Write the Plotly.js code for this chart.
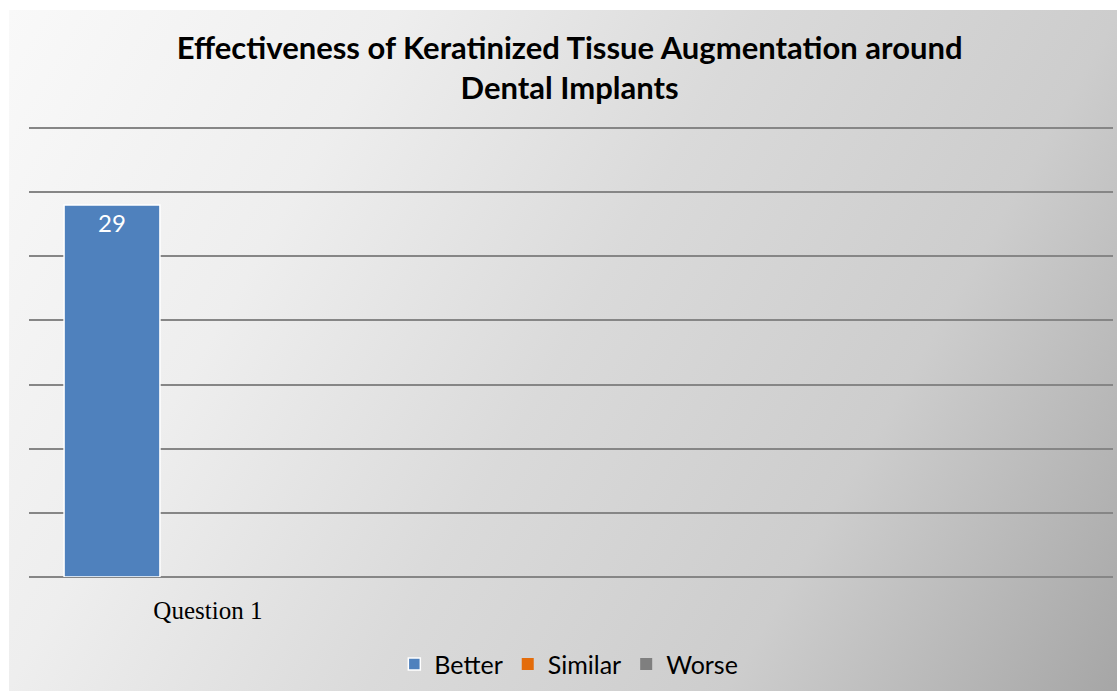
<!DOCTYPE html>
<html>
<head>
<meta charset="utf-8">
<script src="https://cdn.plot.ly/plotly-3.0.1.min.js"></script>
<style>
  html, body { margin: 0; padding: 0; background: #ffffff; }
  #bg { position: absolute; left: 9px; top: 10px; width: 1108px; height: 681px;
        background: linear-gradient(120deg, #f9f9f9 0%, #eeeeee 26%, #dadada 50%, #cdcdcd 74%, #a6a6a6 100%); }
  #chart { position: absolute; left: 0; top: 0; width: 1117px; height: 691px; }
</style>
</head>
<body>
<div id="bg"></div>
<div id="chart"></div>
<script>
const categories = ["Question 1"];
const seriesNames = ["Better", "Similar", "Worse"];
const better = [29];
const similar = [0];
const worse = [0];
const colors = ["#4f81bd", "#e46c0a", "#7f7f7f"];

const values = [better, similar, worse];
const traces = seriesNames.map((name, i) => ({
  type: "bar",
  name: name,
  x: categories,
  y: values[i],
  marker: { color: colors[i], line: { color: "#ffffff", width: values[i][0] > 0 ? 1.5 : 0 } },
  text: values[i].map(v => v > 0 ? String(v) : ""),
  textposition: "inside",
  insidetextanchor: "end",
  textfont: { family: "Lato, 'Open Sans', sans-serif", size: 24, color: "#ffffff" },
  hoverinfo: "none"
}));

const layout = {
  width: 1117,
  height: 691,
  paper_bgcolor: "rgba(0,0,0,0)",
  plot_bgcolor: "rgba(0,0,0,0)",
  margin: { l: 29, r: 4, t: 127, b: 114 },
  title: {
    text: "Effectiveness of Keratinized Tissue Augmentation around<br>Dental Implants",
    font: { family: "Lato, 'Open Sans', sans-serif", size: 31, color: "#000000", weight: "bold" },
    x: 0.51, xanchor: "center",
    y: 0.915, yanchor: "top", yref: "container"
  },
  barmode: "group",
  bargap: 0.196,
  bargroupgap: 0,
  xaxis: {
    type: "category",
    range: [-0.5, 2.53],
    showgrid: false,
    zeroline: false,
    showline: false,
    ticks: "",
    tickfont: { family: "'Liberation Serif', 'DejaVu Serif', serif", size: 25, color: "#000000" },
    ticklabelstandoff: 16
  },
  yaxis: {
    range: [0, 35.08],
    tickvals: [0, 5, 10, 15, 20, 25, 30, 35],
    showticklabels: false,
    showgrid: true,
    gridcolor: "#868686",
    gridwidth: 2,
    zeroline: true,
    zerolinecolor: "#868686",
    zerolinewidth: 2,
    ticks: ""
  },
  showlegend: true,
  legend: {
    orientation: "h",
    x: 0.498, xanchor: "center",
    y: -0.194, yanchor: "middle",
    font: { family: "Lato, 'Open Sans', sans-serif", size: 25, color: "#000000" },
    itemclick: false,
    bgcolor: "rgba(0,0,0,0)"
  }
};

Plotly.newPlot("chart", traces, layout, { displayModeBar: false, staticPlot: true });
</script>
</body>
</html>
